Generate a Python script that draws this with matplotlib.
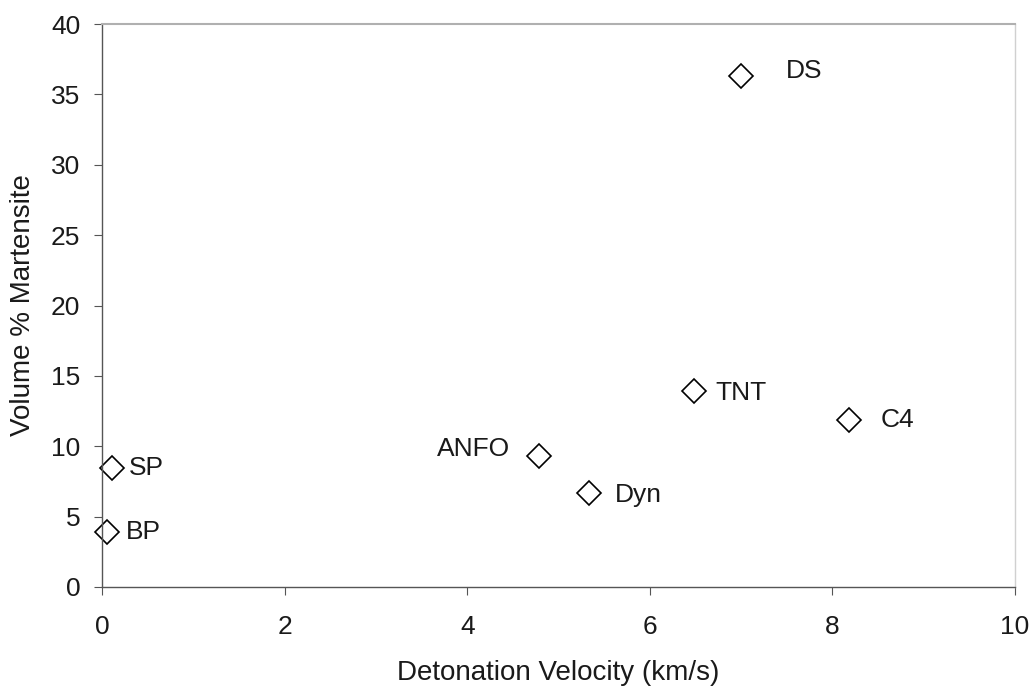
import matplotlib
matplotlib.use("Agg")
import matplotlib.pyplot as plt

# explosives: detonation velocity (km/s) vs volume % martensite
names = ["BP", "SP", "ANFO", "Dyn", "TNT", "DS", "C4"]
velocity = [0.05, 0.11, 4.79, 5.33, 6.48, 7.0, 8.18]
martensite = [3.9, 8.45, 9.3, 6.7, 13.95, 36.3, 11.85]

# label offsets in points (dx, dy) and horizontal alignment
label_pos = {
    "BP": (14, 0, "left"),
    "SP": (12, 0, "left"),
    "ANFO": (-21, 5, "right"),
    "Dyn": (19, -2, "left"),
    "TNT": (16, -1.5, "left"),
    "DS": (32, 3.5, "left"),
    "C4": (23, 0, "left"),
}

plt.rcParams['font.family'] = ['Liberation Sans', 'DejaVu Sans']

fig = plt.figure(figsize=(10.32, 6.9), dpi=100)
ax = fig.add_axes([102 / 1032, 1 - 587 / 690, 913 / 1032, 563 / 690])

ax.plot(velocity, martensite, linestyle="none", marker="D", markersize=12,
        markerfacecolor="white", markeredgecolor="black", markeredgewidth=1.2,
        clip_on=False)

for name, x, y in zip(names, velocity, martensite):
    dx, dy, ha = label_pos[name]
    ax.annotate(name, (x, y), xytext=(dx, dy), textcoords="offset points",
                ha=ha, va="center", fontsize=19, color="#1a1a1a")

ax.set_xlim(0, 10)
ax.set_ylim(0, 40)
ax.set_xticks(range(0, 11, 2))
ax.set_yticks(range(0, 41, 5))

ax.tick_params(axis="x", direction="out", length=6, width=0.8, pad=14,
               labelsize=19, colors="#555555", labelcolor="#1a1a1a")
ax.tick_params(axis="y", direction="out", length=5.5, width=0.8, pad=10,
               labelsize=19, colors="#555555", labelcolor="#1a1a1a")

for side in ["left", "bottom"]:
    ax.spines[side].set_color("#555555")
    ax.spines[side].set_linewidth(1.0)
ax.spines["top"].set_color("#b0b0b0")
ax.spines["top"].set_linewidth(1.5)
ax.spines["right"].set_color("#d0d0d0")
ax.spines["right"].set_linewidth(1.0)

ax.set_xlabel("Detonation Velocity (km/s)", fontsize=20, color="#1a1a1a", va="top")
ax.xaxis.set_label_coords(0.5, -0.1297)
ax.set_ylabel("Volume % Martensite", fontsize=20, color="#1a1a1a", va="center")
ax.yaxis.set_label_coords(-0.087, 0.5)

fig.savefig("out.png", dpi=100)
